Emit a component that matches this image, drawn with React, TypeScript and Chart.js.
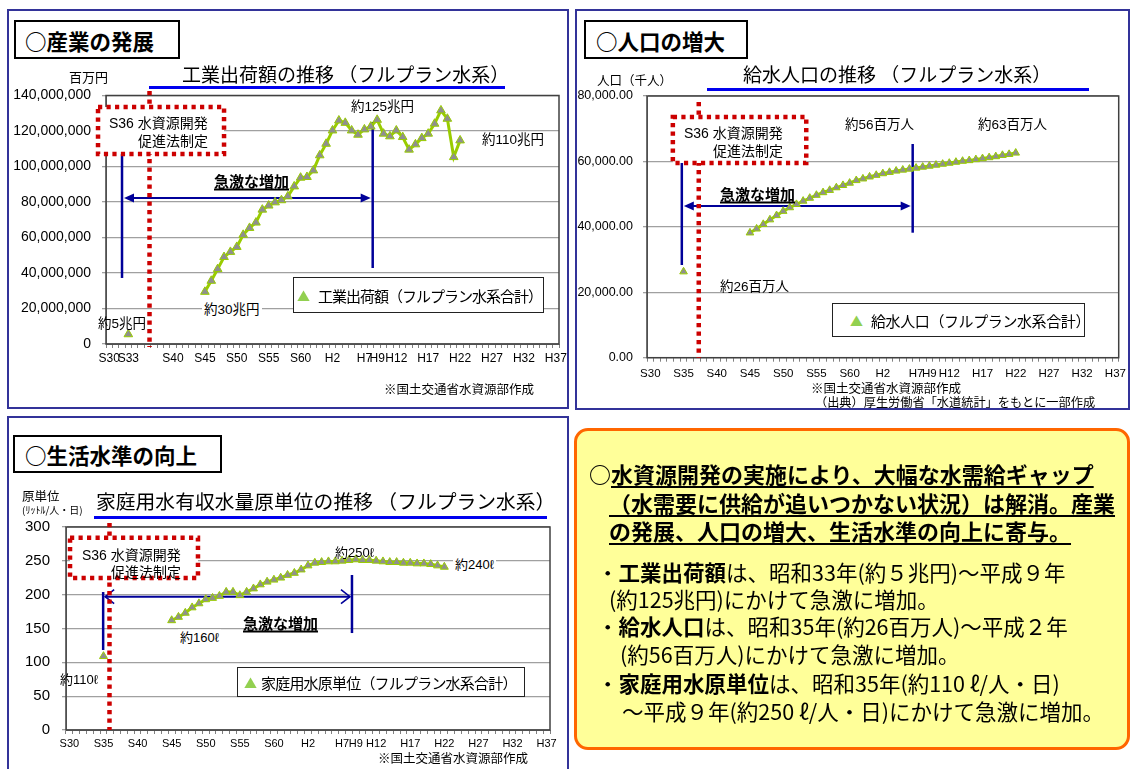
import React, { useEffect, useRef } from 'react';
import { Chart, registerables } from 'chart.js';

Chart.register(...registerables);

// ---------------- categories (S30 = 1955 ... H37 = 2025) ----------------
const yearLabels = [
  'S30', 'S31', 'S32', 'S33', 'S34', 'S35', 'S36', 'S37', 'S38', 'S39',
  'S40', 'S41', 'S42', 'S43', 'S44', 'S45', 'S46', 'S47', 'S48', 'S49',
  'S50', 'S51', 'S52', 'S53', 'S54', 'S55', 'S56', 'S57', 'S58', 'S59',
  'S60', 'S61', 'S62', 'S63', 'H1', 'H2', 'H3', 'H4', 'H5', 'H6',
  'H7', 'H8', 'H9', 'H10', 'H11', 'H12', 'H13', 'H14', 'H15', 'H16',
  'H17', 'H18', 'H19', 'H20', 'H21', 'H22', 'H23', 'H24', 'H25', 'H26',
  'H27', 'H28', 'H29', 'H30', 'H31', 'H32', 'H33', 'H34', 'H35', 'H36', 'H37',
];

// tick labels shown on the x axes
const industryTickLabels = ['S30', 'S33', 'S40', 'S45', 'S50', 'S55', 'S60', 'H2', 'H7', 'H9', 'H12', 'H17', 'H22', 'H27', 'H32', 'H37'];
const commonTickLabels = ['S30', 'S35', 'S40', 'S45', 'S50', 'S55', 'S60', 'H2', 'H7', 'H9', 'H12', 'H17', 'H22', 'H27', 'H32', 'H37'];

// ---------------- series ----------------
const trendYears = [
  'S45', 'S46', 'S47', 'S48', 'S49', 'S50', 'S51', 'S52', 'S53', 'S54',
  'S55', 'S56', 'S57', 'S58', 'S59', 'S60', 'S61', 'S62', 'S63', 'H1',
  'H2', 'H3', 'H4', 'H5', 'H6', 'H7', 'H8', 'H9', 'H10', 'H11',
  'H12', 'H13', 'H14', 'H15', 'H16', 'H17', 'H18', 'H19', 'H20', 'H21', 'H22',
];

// 工業出荷額 (百万円)
const industryYears = ['S33', ...trendYears];
const industryValues = [
  5500000,
  29400000, 35600000, 42200000, 49000000, 51900000, 54700000, 61500000, 65400000, 68400000, 75700000,
  78000000, 79800000, 81000000, 83200000, 88800000, 93700000, 94100000, 97800000, 106300000, 112800000,
  120300000, 125900000, 124600000, 120300000, 117900000, 120900000, 122500000, 126300000, 118500000, 117000000,
  120300000, 116600000, 109500000, 112500000, 116000000, 118500000, 124100000, 131600000, 126900000, 105300000,
  114700000,
];

// 給水人口 (千人)
const populationYears = ['S35', ...trendYears];
const populationValues = [
  26300,
  38200, 39400, 40800, 42200, 43500, 44800, 45900, 46900, 47900, 48800,
  49700, 50500, 51200, 52000, 52700, 53400, 54200, 54700, 55300, 55800,
  56300, 56700, 57100, 57400, 57700, 58000, 58300, 58600, 58900, 59200,
  59500, 59800, 60100, 60300, 60600, 60900, 61200, 61500, 61900, 62200,
  62600,
];

// 家庭用水原単位 (ℓ/人・日)
const waterYears = ['S35', ...trendYears];
const waterValues = [
  109,
  162, 167, 173, 181, 187, 193, 195, 198, 204, 204,
  199, 204, 209, 215, 219, 222, 225, 229, 232, 237,
  243, 247, 248, 249, 249, 250, 251, 252, 251, 251,
  250, 249, 248, 248, 247, 247, 246, 246, 245, 243,
  241,
];

function toSeries(years: string[], values: number[]) {
  return yearLabels.map((lab) => {
    const i = years.indexOf(lab);
    return i >= 0 ? values[i] : null;
  });
}

// ---------------- annotation geometry (category index, value) ----------------
type Ann = {
  redBox: [number, number, number, number];
  redLine: [number, number, number];
  blueLines: [number, number, number][];
  arrow: [number, number, number];
  open: boolean;
};

const industryAnn: Ann = {
  redBox: [-1.75, 18.0, 133.5e6, 107.0e6],
  redLine: [6.32, 142.5e6, -1.7e6],
  blueLines: [[2.01, 107.0e6, 37.2e6], [41.3, 125.1e6, 42.8e6]],
  arrow: [2.01, 41.3, 82.25e6],
  open: false,
};
const populationAnn: Ann = {
  redBox: [3.39, 23.47, 73580, 59518],
  redLine: [7.29, 78166, 0],
  blueLines: [[4.74, 59518, 28338], [39.49, 65328, 38211]],
  arrow: [4.74, 39.49, 46374],
  open: false,
};
const waterAnn: Ann = {
  redBox: [0.09, 18.86, 284.2, 224.6],
  redLine: [5.88, 305.9, 0],
  blueLines: [[4.95, 203.9, 118.2], [41.45, 229.1, 143.3]],
  arrow: [4.95, 41.45, 197.0],
  open: true,
};

const BLUE = '#000099';
const RED = '#cc0000';
const GREEN = '#99cc00';

function makeAnnPlugin(a: Ann) {
  return {
    id: 'ann',
    beforeDatasetsDraw(chart: any) {
      const { ctx } = chart;
      const X = (v: number) => chart.scales.x.getPixelForValue(v);
      const Y = (v: number) => chart.scales.y.getPixelForValue(v);
      ctx.save();
      ctx.strokeStyle = BLUE;
      ctx.fillStyle = BLUE;
      ctx.lineWidth = 2.5;
      a.blueLines.forEach(([xi, v0, v1]) => {
        const px = X(xi);
        ctx.beginPath();
        ctx.moveTo(px, Y(v0));
        ctx.lineTo(px, Y(v1));
        ctx.stroke();
      });
      const [a0, a1, av] = a.arrow;
      const x0 = X(a0) + 2;
      const x1 = X(a1) - 2;
      const py = Y(av);
      ctx.lineWidth = 2;
      ctx.beginPath();
      ctx.moveTo(x0 + (a.open ? 0 : 6), py);
      ctx.lineTo(x1 - (a.open ? 0 : 6), py);
      ctx.stroke();
      if (a.open) {
        ctx.lineWidth = 1.6;
        ctx.beginPath();
        ctx.moveTo(x0 + 9, py - 7);
        ctx.lineTo(x0, py);
        ctx.lineTo(x0 + 9, py + 7);
        ctx.stroke();
        ctx.beginPath();
        ctx.moveTo(x1 - 9, py - 7);
        ctx.lineTo(x1, py);
        ctx.lineTo(x1 - 9, py + 7);
        ctx.stroke();
      } else {
        ctx.beginPath();
        ctx.moveTo(x0, py);
        ctx.lineTo(x0 + 10, py - 4.5);
        ctx.lineTo(x0 + 10, py + 4.5);
        ctx.closePath();
        ctx.fill();
        ctx.beginPath();
        ctx.moveTo(x1, py);
        ctx.lineTo(x1 - 10, py - 4.5);
        ctx.lineTo(x1 - 10, py + 4.5);
        ctx.closePath();
        ctx.fill();
      }
      ctx.restore();
    },
    afterDatasetsDraw(chart: any) {
      const { ctx, chartArea } = chart;
      const X = (v: number) => chart.scales.x.getPixelForValue(v);
      const Y = (v: number) => chart.scales.y.getPixelForValue(v);
      ctx.save();
      ctx.strokeStyle = '#404040';
      ctx.lineWidth = 1.5;
      ctx.strokeRect(chartArea.left, chartArea.top, chartArea.right - chartArea.left, chartArea.bottom - chartArea.top);
      // red dotted vertical line
      ctx.strokeStyle = RED;
      ctx.lineWidth = 4.5;
      ctx.setLineDash([4.2, 4.3]);
      const [lx, lv0, lv1] = a.redLine;
      ctx.beginPath();
      ctx.moveTo(X(lx), Y(lv0));
      ctx.lineTo(X(lx), Y(lv1));
      ctx.stroke();
      // red dotted box
      const [bx0, bx1, bv0, bv1] = a.redBox;
      const rx0 = X(bx0);
      const rx1 = X(bx1);
      const ry0 = Y(bv0);
      const ry1 = Y(bv1);
      ctx.fillStyle = '#ffffff';
      ctx.fillRect(rx0, ry0, rx1 - rx0, ry1 - ry0);
      ctx.strokeRect(rx0, ry0, rx1 - rx0, ry1 - ry0);
      ctx.restore();
    },
  };
}

type ChartSpec = {
  data: (number | null)[];
  shown: string[];
  max: number;
  step: number;
  fmt: (v: number) => string;
  yFont: number;
  xFont: number;
  yWidth: number;
  yPad: number;
  xPad: number;
  padding: { left: number; top: number; right: number; bottom: number };
  radius: number;
  ann: Ann;
};

function buildConfig(s: ChartSpec): any {
  return {
    type: 'line',
    data: {
      labels: yearLabels,
      datasets: [
        {
          data: s.data,
          borderColor: GREEN,
          borderWidth: 3,
          pointStyle: 'triangle',
          pointRadius: s.radius,
          pointBackgroundColor: '#8f8f8f',
          pointBorderColor: GREEN,
          pointBorderWidth: 1,
          spanGaps: false,
          tension: 0,
        },
      ],
    },
    options: {
      responsive: false,
      animation: false,
      layout: { padding: s.padding },
      plugins: { legend: { display: false }, tooltip: { enabled: false }, title: { display: false } },
      scales: {
        x: {
          type: 'category',
          offset: true,
          grid: { display: true, drawOnChartArea: false, drawTicks: true, tickLength: 4, color: '#808080', offset: true },
          border: { color: '#808080' },
          ticks: {
            autoSkip: false,
            maxRotation: 0,
            minRotation: 0,
            padding: s.xPad,
            color: '#000',
            font: { family: 'Liberation Sans', size: s.xFont },
            callback: (_v: any, i: number) => (s.shown.includes(yearLabels[i]) ? yearLabels[i] : ''),
          },
          afterFit: (sc: any) => {
            sc.height = 30;
          },
        },
        y: {
          min: 0,
          max: s.max,
          grid: { color: '#a0a0a0', lineWidth: 1.3, drawTicks: true, tickLength: 4 },
          border: { color: '#808080' },
          ticks: {
            stepSize: s.step,
            padding: s.yPad,
            color: '#000',
            font: { family: 'Liberation Sans', size: s.yFont },
            callback: (v: any) => s.fmt(Number(v)),
          },
          afterFit: (sc: any) => {
            sc.width = s.yWidth;
          },
        },
      },
    },
    plugins: [makeAnnPlugin(s.ann)],
  };
}

const specs: ChartSpec[] = [
  {
    data: toSeries(industryYears, industryValues),
    shown: industryTickLabels,
    max: 140000000,
    step: 20000000,
    fmt: (v) => v.toLocaleString('en-US'),
    yFont: 14,
    xFont: 12,
    yWidth: 106,
    yPad: 11,
    xPad: 3,
    padding: { left: 0, top: 95.5, right: 572, bottom: 395 },
    radius: 5,
    ann: industryAnn,
  },
  {
    data: toSeries(populationYears, populationValues),
    shown: commonTickLabels,
    max: 80000,
    step: 20000,
    fmt: (v) => v.toLocaleString('en-US', { minimumFractionDigits: 2, maximumFractionDigits: 2 }),
    yFont: 12.5,
    xFont: 11.5,
    yWidth: 647,
    yPad: 10,
    xPad: 5,
    padding: { left: 0, top: 96, right: 10, bottom: 381.3 },
    radius: 4.4,
    ann: populationAnn,
  },
  {
    data: toSeries(waterYears, waterValues),
    shown: commonTickLabels,
    max: 300,
    step: 50,
    fmt: (v) => String(v),
    yFont: 15,
    xFont: 11,
    yWidth: 66,
    yPad: 12,
    xPad: 3,
    padding: { left: 0, top: 527, right: 581, bottom: 9 },
    radius: 4.6,
    ann: waterAnn,
  },
];

function ChartLayer({ spec }: { spec: ChartSpec }) {
  const ref = useRef<HTMLCanvasElement | null>(null);
  useEffect(() => {
    if (!ref.current) return;
    const c = new Chart(ref.current, buildConfig(spec));
    return () => c.destroy();
  }, []);
  return (
    <canvas
      ref={ref}
      width={1131}
      height={769}
      style={{ position: 'absolute', left: 0, top: 0, width: 1131, height: 769, pointerEvents: 'none' }}
    />
  );
}

// ---------------- HTML text helpers ----------------
const FONT_JP = '"Noto Sans CJK JP", sans-serif';
const FONT_MIX = '"Liberation Sans", "Noto Sans CJK JP", sans-serif';

function Txt(p: {
  x: number;
  y: number;
  s: number;
  children: any;
  bold?: boolean;
  u?: boolean;
  bg?: boolean;
  ls?: number;
  mix?: boolean;
}) {
  return (
    <div
      style={{
        position: 'absolute',
        left: p.x,
        top: p.y,
        transform: 'translateY(-50%)',
        fontSize: p.s,
        lineHeight: 1,
        whiteSpace: 'nowrap',
        fontWeight: p.bold ? 700 : 400,
        textDecoration: p.u ? 'underline' : 'none',
        textDecorationThickness: p.u ? 1.5 : undefined,
        textUnderlineOffset: p.u ? 2 : undefined,
        background: p.bg ? '#fff' : 'transparent',
        padding: p.bg ? '1px 2px' : 0,
        marginLeft: p.bg ? -2 : 0,
        letterSpacing: p.ls,
        fontFamily: p.mix ? FONT_MIX : FONT_JP,
        color: '#000',
      }}
    >
      {p.children}
    </div>
  );
}

function Box(p: { x: number; y: number; w: number; h: number; border: string; children?: any; bg?: string; radius?: number }) {
  return (
    <div
      style={{
        position: 'absolute',
        left: p.x,
        top: p.y,
        width: p.w,
        height: p.h,
        border: p.border,
        boxSizing: 'border-box',
        background: p.bg || 'transparent',
        borderRadius: p.radius || 0,
      }}
    >
      {p.children}
    </div>
  );
}

function Bar(p: { x: number; y: number; w: number }) {
  return <div style={{ position: 'absolute', left: p.x, top: p.y, width: p.w, height: 3, background: '#0000ee' }} />;
}

function Legend(p: { x: number; y: number; w: number; h: number; tri: number; tx: number; s: number; ls: number; text: string }) {
  return (
    <>
      <Box x={p.x} y={p.y} w={p.w} h={p.h} border="1.5px solid #222" bg="#fff" />
      <Txt x={p.tri} y={p.y + p.h / 2} s={13}>
        <span style={{ color: '#92d050' }}>▲</span>
      </Txt>
      <Txt x={p.tx} y={p.y + p.h / 2} s={p.s} ls={p.ls}>
        {p.text}
      </Txt>
    </>
  );
}

export default function App() {
  return (
    <div
      style={{
        position: 'absolute',
        left: 0,
        top: 0,
        width: 1131,
        height: 769,
        overflow: 'hidden',
        background: '#fff',
        fontFamily: FONT_JP,
      }}
    >
      {/* panels */}
      <Box x={7} y={9} w={562} h={400} border="2px solid #333399" />
      <Box x={575} y={9} w={555} h={401} border="2px solid #333399" />
      <Box x={7} y={416} w={562} h={380} border="2px solid #333399" />
      <Box x={574} y={428} w={556} h={322} border="3px solid #ff6600" bg="#ffff99" radius={14} />

      {specs.map((s, i) => (
        <ChartLayer key={i} spec={s} />
      ))}

      {/* ---------- panel 1: 産業の発展 ---------- */}
      <Box x={14} y={20} w={166} h={39} border="2px solid #000" bg="#fff" />
      <Txt x={25} y={41} s={21.5} bold>○産業の発展</Txt>
      <Txt x={69} y={76} s={13}>百万円</Txt>
      <Txt x={182} y={73} s={19}>工業出荷額の推移 （フルプラン水系）</Txt>
      <Bar x={149} y={86} w={356} />
      <Txt x={109} y={123} s={14} mix>S36 水資源開発</Txt>
      <Txt x={138} y={140} s={14}>促進法制定</Txt>
      <Txt x={214} y={180} s={15} bold u>急激な増加</Txt>
      <Txt x={351} y={107} s={13.5} mix>約125兆円</Txt>
      <Txt x={482} y={140} s={13.5} mix>約110兆円</Txt>
      <Txt x={204} y={310} s={13.5} mix bg>約30兆円</Txt>
      <Txt x={98} y={324} s={13.5} mix>約5兆円</Txt>
      <Legend x={293} y={277} w={251} h={36} tri={297} tx={318} s={15} ls={-1} text="工業出荷額（フルプラン水系合計）" />
      <Txt x={384} y={389} s={12.5}>※国土交通省水資源部作成</Txt>

      {/* ---------- panel 2: 人口の増大 ---------- */}
      <Box x={584} y={20} w={164} h={39} border="2px solid #000" bg="#fff" />
      <Txt x={596} y={41} s={21.5} bold>○人口の増大</Txt>
      <Txt x={597} y={80} s={12.5}>人口（千人）</Txt>
      <Txt x={743} y={73} s={19}>給水人口の推移 （フルプラン水系）</Txt>
      <Bar x={707} y={88} w={382} />
      <Txt x={684} y={133} s={14} mix>S36 水資源開発</Txt>
      <Txt x={713} y={150} s={14}>促進法制定</Txt>
      <Txt x={720} y={193} s={15} bold u>急激な増加</Txt>
      <Txt x={845} y={125} s={13.5} mix>約56百万人</Txt>
      <Txt x={978} y={125} s={13.5} mix>約63百万人</Txt>
      <Txt x={720} y={287} s={13.5} mix>約26百万人</Txt>
      <Legend x={832} y={303} w={253} h={34} tri={850} tx={871} s={15} ls={-0.4} text="給水人口（フルプラン水系合計）" />
      <Txt x={811} y={388} s={12.5}>※国土交通省水資源部作成</Txt>
      <Txt x={815} y={402} s={12.2}>（出典）厚生労働省「水道統計」をもとに一部作成</Txt>

      {/* ---------- panel 3: 生活水準の向上 ---------- */}
      <Box x={13} y={435} w={209} h={38} border="2px solid #000" bg="#fff" />
      <Txt x={25} y={455} s={21.5} bold>○生活水準の向上</Txt>
      <Txt x={22} y={496} s={12.5}>原単位</Txt>
      <Txt x={22} y={510} s={10}>(ﾘｯﾄﾙ/人・日)</Txt>
      <Txt x={96} y={501} s={19.8}>家庭用水有収水量原単位の推移 （フルプラン水系）</Txt>
      <Bar x={94} y={516} w={453} />
      <Txt x={82} y={555} s={14} mix>S36 水資源開発</Txt>
      <Txt x={111} y={571} s={14}>促進法制定</Txt>
      <Txt x={243} y={622} s={15} bold u>急激な増加</Txt>
      <Txt x={180} y={637} s={13} mix bg>約160ℓ</Txt>
      <Txt x={60} y={679} s={13} mix>約110ℓ</Txt>
      <Txt x={335} y={552} s={13} mix>約250ℓ</Txt>
      <Txt x={455} y={564} s={13} mix bg>約240ℓ</Txt>
      <Legend x={237} y={667} w={288} h={30} tri={244} tx={261} s={15} ls={-0.8} text="家庭用水原単位（フルプラン水系合計）" />
      <Txt x={378} y={758} s={12.5}>※国土交通省水資源部作成</Txt>

      {/* ---------- summary box ---------- */}
      <Txt x={589} y={473} s={22} bold>
        ○<span style={{ textDecoration: 'underline', textDecorationThickness: 2, textUnderlineOffset: 3 }}>水資源開発の実施により、大幅な水需給ギャップ</span>
      </Txt>
      <Txt x={609} y={502} s={22} bold>
        <span style={{ textDecoration: 'underline', textDecorationThickness: 2, textUnderlineOffset: 3 }}>（水需要に供給が追いつかない状況）は解消。産業</span>
      </Txt>
      <Txt x={609} y={530} s={22} bold>
        <span style={{ textDecoration: 'underline', textDecorationThickness: 2, textUnderlineOffset: 3 }}>の発展、人口の増大、生活水準の向上に寄与。</span>
      </Txt>
      <Txt x={597} y={572} s={21.5}>
        ・<b>工業出荷額</b>は、昭和33年(約５兆円)～平成９年
      </Txt>
      <Txt x={609} y={599} s={21.5}>(約125兆円)にかけて急激に増加。</Txt>
      <Txt x={597} y={626} s={21.5}>
        ・<b>給水人口</b>は、昭和35年(約26百万人)～平成２年
      </Txt>
      <Txt x={620} y={654} s={21.5}>(約56百万人)にかけて急激に増加。</Txt>
      <Txt x={597} y={683} s={21.5}>
        ・<b>家庭用水原単位</b>は、昭和35年(約110 ℓ/人・日)
      </Txt>
      <Txt x={622} y={711} s={21.5}>～平成９年(約250 ℓ/人・日)にかけて急激に増加。</Txt>
    </div>
  );
}
